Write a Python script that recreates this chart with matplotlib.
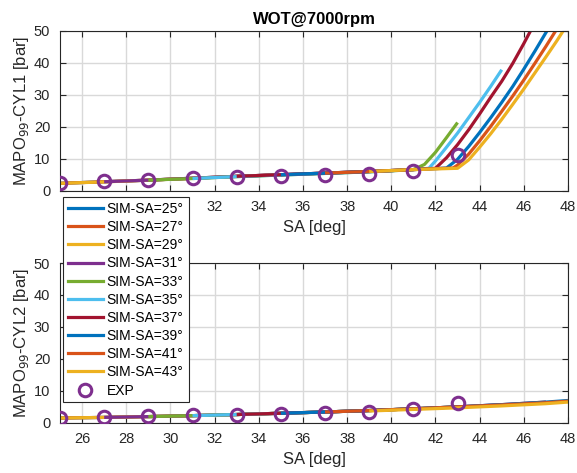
import matplotlib
matplotlib.use("Agg")
import matplotlib.pyplot as plt
from matplotlib.lines import Line2D

plt.rcParams['font.family'] = ['Liberation Sans', 'DejaVu Sans']

# simulated spark advance of each run
sim_sa = [25, 27, 29, 31, 33, 35, 37, 39, 41, 43]

# MATLAB default line colours (order repeats after 7)
colors = ['#0072BD', '#D95319', '#EDB120', '#7E2F8E', '#77AC30',
          '#4DBEEE', '#A2142F', '#0072BD', '#D95319', '#EDB120']

# ---- cylinder 1: SA sweep of each simulation and MAPO99 [bar]
x_25 = [21, 23, 25, 27, 29, 31, 33, 35]
c1_25 = [1.6, 1.9, 2.3, 2.8, 3.3, 3.9, 4.5, 5.0]
x_27 = [23, 25, 27, 29, 31, 33, 35, 37]
c1_27 = [1.9, 2.3, 2.8, 3.3, 3.9, 4.5, 5.0, 5.5]
x_29 = [25, 27, 29, 31, 33, 35, 37, 39]
c1_29 = [2.3, 2.75, 3.3, 3.85, 4.45, 4.95, 5.45, 6.0]
x_31 = [27, 29, 31, 33, 35, 37, 39, 41]
c1_31 = [2.8, 3.3, 3.9, 4.5, 5.0, 5.5, 6.0, 6.6]
x_33 = [29, 31, 33, 35, 37, 39, 40, 41, 41.5, 42, 42.5, 43]
c1_33 = [3.3, 3.8, 4.4, 4.9, 5.4, 5.9, 6.2, 6.6, 8.2, 12.0, 16.6, 21.3]
x_35 = [31, 33, 35, 37, 39, 41, 41.7, 42, 42.5, 43, 43.5, 44, 44.5, 45]
c1_35 = [3.8, 4.4, 4.9, 5.4, 5.9, 6.6, 7.0, 9.3, 13.6, 18.0, 22.8, 27.6, 32.6, 37.8]
x_37 = [33, 35, 37, 39, 41, 42, 42.5, 43, 43.5, 44, 44.5, 45, 45.5, 46, 46.5, 47]
c1_37 = [4.5, 5.0, 5.5, 6.0, 6.6, 7.0, 10.3, 14.4, 19.0, 24.0, 29.2, 34.2, 39.8, 46.0, 52.5, 59.0]
x_39 = [35, 37, 39, 41, 42, 42.5, 43, 43.5, 44, 44.5, 45, 45.5, 46, 46.5, 47, 47.5]
c1_39 = [5.0, 5.5, 6.0, 6.6, 6.9, 7.1, 9.8, 13.8, 18.2, 22.8, 27.6, 32.6, 38.0, 43.6, 49.4, 55.0]
x_41 = [37, 39, 41, 42, 42.8, 43, 43.5, 44, 44.5, 45, 45.5, 46, 46.5, 47, 47.5, 48]
c1_41 = [5.5, 6.0, 6.6, 6.9, 7.1, 8.0, 11.4, 15.6, 20.1, 24.8, 29.6, 34.6, 39.8, 45.1, 50.6, 56.0]
x_43 = [39, 41, 42, 43, 43.5, 44, 44.5, 45, 45.5, 46, 46.5, 47, 47.5, 48]
c1_43 = [6.0, 6.6, 6.8, 7.0, 9.6, 13.6, 17.8, 22.3, 27.0, 31.8, 36.8, 41.8, 46.9, 52.3]

# ---- cylinder 2
c2_25 = [1.0, 1.15, 1.4, 1.6, 1.85, 2.15, 2.5, 2.9]
c2_27 = [1.15, 1.4, 1.6, 1.85, 2.15, 2.5, 2.9, 3.3]
c2_29 = [1.4, 1.6, 1.85, 2.15, 2.5, 2.9, 3.3, 3.75]
c2_31 = [1.6, 1.85, 2.15, 2.5, 2.9, 3.3, 3.75, 4.3]
x2_33 = [29, 31, 33, 35, 37, 39, 41, 43]
c2_33 = [1.85, 2.15, 2.5, 2.9, 3.3, 3.75, 4.3, 4.9]
x2_35 = [31, 33, 35, 37, 39, 41, 43, 45]
c2_35 = [2.15, 2.5, 2.9, 3.3, 3.75, 4.3, 4.9, 5.6]
x2_37 = [33, 35, 37, 39, 41, 43, 45, 47]
c2_37 = [2.5, 2.9, 3.3, 3.75, 4.3, 4.9, 5.6, 6.4]
x2_39 = [35, 37, 39, 41, 43, 45, 47, 48]
c2_39 = [2.9, 3.3, 3.75, 4.3, 4.9, 5.6, 6.4, 6.9]
x2_41 = [37, 39, 41, 43, 45, 47, 48]
c2_41 = [3.3, 3.75, 4.3, 4.9, 5.5, 6.2, 6.7]
x2_43 = [39, 41, 43, 45, 47, 48]
c2_43 = [3.6, 4.1, 4.6, 5.2, 5.9, 6.4]

# ---- experiments
exp_sa = [25, 27, 29, 31, 33, 35, 37, 39, 41, 43]
exp_c1 = [2.5, 3.0, 3.5, 3.9, 4.4, 4.6, 4.8, 5.2, 6.0, 11.2]
exp_c2 = [1.5, 1.7, 1.9, 2.2, 2.5, 2.8, 3.0, 3.2, 4.3, 6.1]

cyl1 = [(x_25, c1_25), (x_27, c1_27), (x_29, c1_29), (x_31, c1_31), (x_33, c1_33),
        (x_35, c1_35), (x_37, c1_37), (x_39, c1_39), (x_41, c1_41), (x_43, c1_43)]
cyl2 = [(x_25, c2_25), (x_27, c2_27), (x_29, c2_29), (x_31, c2_31), (x2_33, c2_33),
        (x2_35, c2_35), (x2_37, c2_37), (x2_39, c2_39), (x2_41, c2_41), (x2_43, c2_43)]

fig = plt.figure(figsize=(5.77, 4.73), dpi=100)
ax1 = fig.add_axes([60 / 577, 1 - 190.7 / 473, 508 / 577, 160 / 473])
ax2 = fig.add_axes([60 / 577, 1 - 422.5 / 473, 508 / 577, 159.5 / 473])

exp_color = '#7E2F8E'
for ax, data, exp, cyl in [(ax1, cyl1, exp_c1, 'CYL1'), (ax2, cyl2, exp_c2, 'CYL2')]:
    for (xs, ys), c in zip(data, colors):
        ax.plot(xs, ys, color=c, lw=2.3, solid_capstyle='butt')
    ax.plot(exp_sa, exp, 'o', ms=9, mfc='none', mec=exp_color, mew=2.2, zorder=5)
    ax.set_xlim(25, 48)
    ax.set_ylim(0, 50)
    ax.set_xticks(range(26, 49, 2))
    ax.set_yticks(range(0, 51, 10))
    ax.grid(True, color='#d9d9d9', lw=1.0)
    ax.set_axisbelow(True)
    ax.tick_params(direction='in', top=True, right=True, length=4, width=0.8,
                   labelsize=10.5, colors='#262626', pad=7)
    for s in ax.spines.values():
        s.set_color('#262626')
        s.set_linewidth(0.8)
    ax.set_xlabel('SA [deg]', fontsize=12, color='#262626', labelpad=4)
    ax.set_ylabel('MAPO$_{99}$-' + cyl + ' [bar]', fontsize=12, color='#262626', labelpad=2)

ax1.set_title('WOT@7000rpm', fontsize=12, fontweight='bold', color='#000000', pad=5)

# one shared legend sitting across both axes, as in the original figure
handles = [Line2D([], [], color=c, lw=2.3) for c in colors]
handles.append(Line2D([], [], ls='none', marker='o', ms=9, mfc='none', mec=exp_color, mew=2.2))
labels = ['SIM-SA=%d°' % s for s in sim_sa] + ['EXP']
leg = fig.legend(handles, labels, loc='upper left', bbox_to_anchor=(63 / 577, 1 - 197 / 473),
                 borderaxespad=0, fontsize=10, handlelength=2.5, handletextpad=0.3,
                 labelspacing=0.3, borderpad=0.35, fancybox=False, framealpha=1,
                 edgecolor='#262626')
leg.get_frame().set_linewidth(0.8)

fig.savefig('out.png', dpi=100)
